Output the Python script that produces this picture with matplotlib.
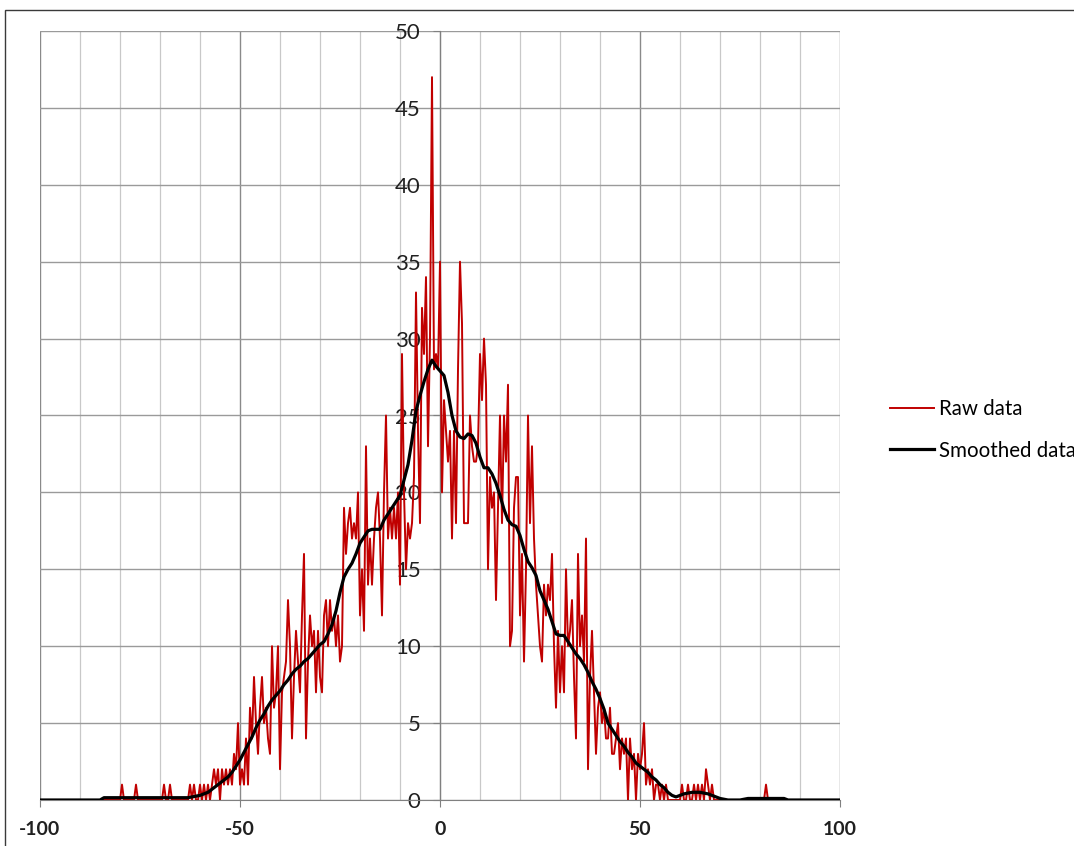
import numpy as np
import matplotlib
matplotlib.use("Agg")
import matplotlib.pyplot as plt
from matplotlib.patches import Rectangle

plt.rcParams['font.family'] = ['Lato', 'DejaVu Sans']
plt.rcParams['axes.unicode_minus'] = False

# Raw counts, one value every 0.5 from -100 to 100
raw_x = np.arange(-100, 100.5, 0.5)
raw_left_tail = [
    0, 0, 0, 0, 0, 0, 0, 0, 0, 0, 0, 0, 0, 0, 0, 0, 0, 0, 0, 0,   # -100
    0, 0, 0, 0, 0, 0, 0, 0, 0, 0, 0, 0, 0, 0, 0, 0, 0, 0, 0, 0,   # -90
    0, 1, 0, 0, 0, 0, 0, 0, 1, 0, 0, 0, 0, 0, 0, 0, 0, 0, 0, 0,   # -80
    0, 0, 1, 0, 0, 1, 0, 0, 0, 0, 0, 0, 0, 0, 0, 1, 0, 1, 0, 0,   # -70
]
raw_rise = [
    1, 0, 1, 0, 1, 0, 1, 2, 1, 2, 0, 2, 1, 2, 1, 2, 1, 3, 2, 5,   # -60
    1, 2, 1, 4, 1, 6, 4, 8, 5, 3, 6, 8, 5, 6, 4, 3, 10, 6, 7, 10,  # -50
    2, 7, 8, 9, 13, 10, 4, 8, 11, 9, 7, 12, 16, 4, 9, 12, 10, 11, 7, 11,  # -40
    8, 7, 12, 13, 10, 13, 11, 12, 10, 12, 9, 10, 19, 16, 18, 19, 17, 18, 17, 20,  # -30
]
raw_center = [
    12, 15, 11, 23, 14, 17, 14, 17, 19, 20, 17, 12, 20, 25, 17, 19, 17, 19, 17, 20,  # -20
    14, 29, 20, 15, 18, 17, 18, 21, 33, 24, 18, 32, 29, 34, 23, 30, 47, 28, 29, 28,  # -10
    35, 20, 26, 24, 22, 24, 17, 24, 18, 28, 35, 31, 18, 18, 18, 25, 23, 22, 22, 23,  # 0
    29, 26, 30, 27, 15, 21, 19, 20, 13, 19, 25, 18, 25, 22, 27, 10, 11, 19, 21, 21,  # 10
]
raw_fall = [
    12, 16, 9, 15, 25, 18, 23, 17, 14, 12, 10, 9, 14, 12, 14, 13, 16, 10, 6, 11,  # 20
    7, 10, 7, 15, 10, 11, 13, 8, 4, 16, 10, 12, 9, 17, 2, 8, 11, 7, 3, 6,  # 30
    7, 5, 6, 4, 4, 6, 3, 3, 4, 5, 2, 4, 3, 4, 0, 4, 2, 3, 0, 3,   # 40
    2, 3, 5, 1, 2, 1, 2, 0, 1, 1, 0, 1, 0, 1, 0, 0, 0, 0, 0, 0,   # 50
]
raw_right_tail = [
    0, 1, 0, 0, 1, 0, 0, 1, 0, 1, 0, 1, 0, 2, 1, 0, 1, 0, 0, 0,   # 60
    0, 0, 0, 0, 0, 0, 0, 0, 0, 0, 0, 0, 0, 0, 0, 0, 0, 0, 0, 0,   # 70
    0, 0, 0, 1, 0, 0, 0, 0, 0, 0, 0, 0, 0, 0, 0, 0, 0, 0, 0, 0,   # 80
    0, 0, 0, 0, 0, 0, 0, 0, 0, 0, 0, 0, 0, 0, 0, 0, 0, 0, 0, 0,   # 90
    0,                                                            # 100
]
raw_y = raw_left_tail + raw_rise + raw_center + raw_fall + raw_right_tail

# Smoothed curve, one value per unit from -100 to 100
smooth_x = np.arange(-100, 101)
smooth_y = [
    0, 0, 0, 0, 0, 0, 0, 0, 0, 0,                                  # -100
    0, 0, 0, 0, 0, 0, 0.15, 0.15, 0.15, 0.15,                      # -90
    0.15, 0.15, 0.15, 0.15, 0.15, 0.15, 0.15, 0.15, 0.15, 0.15,    # -80
    0.15, 0.15, 0.15, 0.15, 0.15, 0.15, 0.15, 0.15, 0.2, 0.25,     # -70
    0.3, 0.4, 0.5, 0.7, 0.9, 1.1, 1.3, 1.5, 1.8, 2.2,              # -60
    2.6, 3.1, 3.6, 4.1, 4.7, 5.2, 5.6, 6.1, 6.5, 6.8,              # -50
    7.1, 7.5, 7.8, 8.2, 8.5, 8.7, 9.0, 9.2, 9.5, 9.8,              # -40
    10.1, 10.3, 10.8, 11.4, 12.3, 13.5, 14.5, 15.0, 15.4, 16.0,    # -30
    16.7, 17.1, 17.5, 17.6, 17.6, 17.6, 18.2, 18.6, 19.0, 19.4,    # -20
    19.8, 20.8, 21.8, 23.4, 25.3, 26.3, 27.2, 28.0, 28.6, 28.2,    # -10
    27.9, 27.6, 26.5, 25.0, 24.0, 23.6, 23.5, 23.8, 23.7, 23.2,    # 0
    22.3, 21.6, 21.6, 21.2, 20.6, 19.8, 18.9, 18.2, 17.9, 17.8,    # 10
    17.2, 16.3, 15.5, 15.1, 14.6, 13.6, 13.0, 12.4, 11.6, 10.8,    # 20
    10.7, 10.7, 10.3, 9.9, 9.5, 9.2, 8.8, 8.3, 7.7, 7.2,           # 30
    6.6, 5.9, 5.0, 4.6, 4.2, 3.8, 3.5, 3.1, 2.8, 2.4,              # 40
    2.2, 2.0, 1.8, 1.5, 1.3, 1.0, 0.8, 0.5, 0.3, 0.2,              # 50
    0.3, 0.4, 0.45, 0.5, 0.5, 0.5, 0.45, 0.4, 0.3, 0.2,            # 60
    0.1, 0.05, 0, 0, 0, 0, 0.05, 0.1, 0.1, 0.1,                    # 70
    0.1, 0.1, 0.1, 0.1, 0.1, 0.1, 0.1, 0, 0, 0,                    # 80
    0, 0, 0, 0, 0, 0, 0, 0, 0, 0, 0,                               # 90..100
]

x_major = [-100, -50, 0, 50, 100]
x_minor = np.arange(-100, 101, 10)
y_ticks = np.arange(0, 51, 5)


def plot_chart():
    W, H = 1074, 846
    fig = plt.figure(figsize=(W / 100, H / 100), dpi=100)

    # outer chart frame (runs off the right and bottom of the picture)
    fig.add_artist(Rectangle((5 / W, -0.1), 1.2, 1 - 10 / H + 0.1,
                             transform=fig.transFigure, fill=False,
                             ec='#3a3a3a', lw=1.0))

    ax = fig.add_axes([40 / W, 1 - 800 / H, 800 / W, 769 / H])
    ax.set_axisbelow(True)

    # vertical axis crosses at x = 0 (set before tick styling, it resets ticks)
    for s in ['top', 'right']:
        ax.spines[s].set_visible(False)
    ax.spines['left'].set_position(('data', 0))
    ax.spines['left'].set_color('#808080')
    ax.spines['bottom'].set_color('#808080')

    ax.plot(raw_x, raw_y, color='#c00000', lw=1.4, zorder=3, label='Raw data')
    ax.plot(smooth_x, smooth_y, color='black', lw=2.3, zorder=4,
            label='Smoothed data')

    ax.set_xlim(-100, 100)
    ax.set_ylim(0, 50)

    ax.set_xticks(x_major)
    ax.set_xticks(x_minor, minor=True)
    ax.set_yticks(y_ticks)
    ax.set_xticklabels([str(v) for v in x_major], fontsize=14,
                       fontweight='bold', color='#202020')
    ax.set_yticklabels([str(v) for v in y_ticks], fontsize=16,
                       color='#202020')

    # gridlines: light minor verticals, darker ones every 50, horizontals every 5
    ax.grid(which='minor', axis='x', color='#c8c8c8', lw=0.9)
    ax.grid(which='major', axis='x', color='#8a8a8a', lw=1.0)
    ax.grid(which='major', axis='y', color='#9a9a9a', lw=1.0)

    ax.tick_params(axis='x', which='major', direction='out', length=5,
                   color='#808080', pad=10)
    ax.tick_params(axis='x', which='minor', length=0)
    ax.tick_params(axis='y', direction='out', length=5, color='#808080', pad=9)

    ax.legend(loc='center left', bbox_to_anchor=(890 / W, 1 - 430 / H),
              bbox_transform=fig.transFigure, frameon=False, fontsize=14.8,
              handlelength=2.13, handletextpad=0.25, labelspacing=1.04,
              borderpad=0, borderaxespad=0)

    fig.savefig("out.png", dpi=100)


if __name__ == "__main__":
    plot_chart()
